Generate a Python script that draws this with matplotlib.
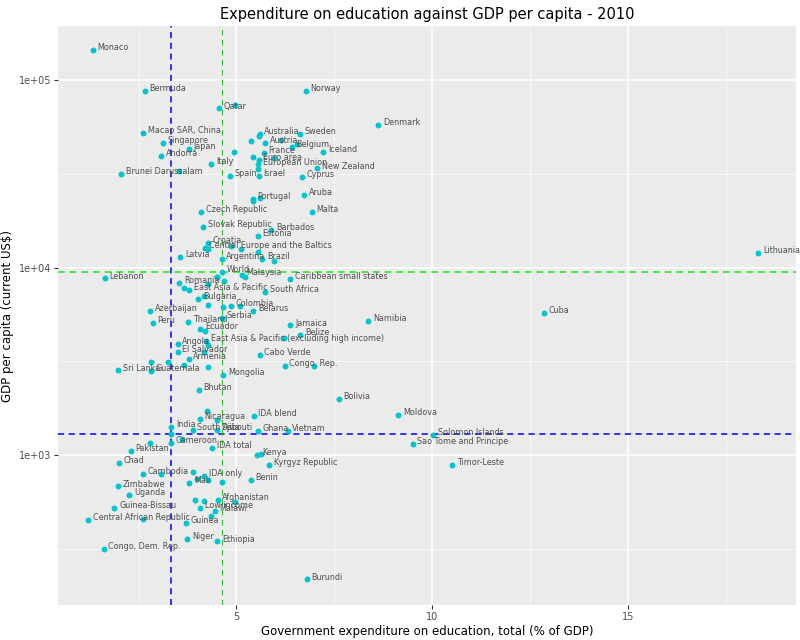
import numpy as np
import matplotlib.pyplot as plt
from matplotlib.ticker import FixedLocator, NullFormatter

# labelled countries / aggregates: (name, education % GDP, GDP per capita)
names = ["Monaco", "Bermuda", "Norway", "Qatar", "Denmark", "Macao SAR, China", "Australia",
         "Sweden", "Austria", "Singapore", "Belgium", "Iceland", "Japan", "Andorra", "France",
         "Euro area", "Italy", "European Union", "New Zealand", "Brunei Darussalam", "Spain",
         "Israel", "Cyprus", "Aruba", "Portugal", "Malta", "Czech Republic", "Slovak Republic",
         "Barbados", "Estonia", "Croatia", "Central Europe and the Baltics", "Latvia", "Argentina",
         "Brazil", "World", "Malaysia", "Caribbean small states", "Lebanon", "Romania",
         "East Asia & Pacific", "South Africa", "Bulgaria", "Colombia", "Belarus", "Azerbaijan",
         "Serbia", "Peru", "Thailand", "Jamaica", "Namibia", "Ecuador", "Belize",
         "East Asia & Pacific (excluding high income)", "Angola", "El Salvador", "Cabo Verde",
         "Armenia", "Sri Lanka", "Guatemala", "Congo, Rep.", "Mongolia", "Bhutan", "Bolivia",
         "Moldova", "IDA blend", "Nicaragua", "India", "South Asia", "Djibouti", "Ghana", "Vietnam",
         "Cameroon", "Pakistan", "IDA total", "Kenya", "Chad", "Kyrgyz Republic", "Cambodia",
         "IDA only", "Mali", "Benin", "Zimbabwe", "Uganda", "Afghanistan", "Guinea-Bissau",
         "Low income", "Malawi", "Central African Republic", "Guinea", "Niger", "Ethiopia",
         "Congo, Dem. Rep.", "Burundi", "Lithuania", "Cuba", "Solomon Islands",
         "Sao Tome and Principe", "Timor-Leste"]
edu = [1.33, 2.66, 6.77, 4.56, 8.63, 2.62, 5.59, 6.63, 5.74, 3.12, 6.41, 7.22, 3.79, 3.08, 5.70,
       5.57, 4.36, 5.56, 7.07, 2.05, 4.83, 5.57, 6.68, 6.73, 5.42, 6.93, 4.09, 4.15, 5.89, 5.55,
       4.27, 4.19, 3.57, 4.62, 5.66, 4.62, 5.13, 6.38, 1.64, 3.54, 3.79, 5.74, 4.03, 4.85, 5.43,
       2.79, 4.62, 2.86, 3.77, 6.38, 8.37, 4.08, 6.63, 4.22, 3.50, 3.50, 5.59, 3.78, 1.98, 2.82,
       6.23, 4.66, 4.04, 7.62, 9.14, 5.44, 4.06, 3.33, 3.88, 4.50, 5.55, 6.31, 3.32, 2.30, 4.38,
       5.53, 2.00, 5.84, 2.62, 4.17, 3.80, 5.36, 1.97, 2.26, 4.52, 1.88, 4.07, 4.44, 1.21, 3.70,
       3.74, 4.51, 1.61, 6.80, 18.34, 12.86, 10.03, 9.50, 10.51]
gdp = [145000, 88300, 87500, 70800, 57700, 52700, 51900, 52000, 46500, 46500, 44300, 41700,
       43100, 39700, 40900, 37700, 35900, 35600, 33900, 31500, 30800, 30800, 30500, 24400, 23400,
       19800, 19800, 16600, 15900, 14700, 13600, 12800, 11400, 11200, 11200, 9500, 9140, 8740,
       8770, 8320, 7610, 7450, 6780, 6270, 5850, 5870, 5410, 5090, 5150, 4920, 5180, 4690, 4380,
       4050, 3920, 3560, 3420, 3260, 2830, 2820, 2980, 2670, 2220, 1995, 1645, 1625, 1560, 1406,
       1367, 1367, 1340, 1345, 1157, 1051, 1087, 1002, 904, 889, 790, 778, 711, 738, 680, 614,
       574, 523, 523, 501, 453, 435, 356, 346, 316, 217, 12020, 5730, 1285, 1151, 883]

# points without a readable label
extra_edu = [4.96, 5.38, 5.57, 6.15, 6.56, 4.93, 5.43, 5.96, 5.55, 3.52, 5.42, 5.59, 4.27, 4.85,
             5.11, 5.55, 5.97, 4.50, 4.68, 5.21, 3.67, 4.27, 4.16, 4.27, 4.66, 5.10, 4.19, 4.27,
             6.22, 4.16, 3.26, 2.82, 3.67, 4.27, 6.98, 4.26, 4.51, 3.33, 2.78, 3.62, 5.62, 3.08,
             3.88, 4.00, 4.27, 4.63, 3.95, 4.17, 4.97, 4.36, 2.60, 4.50]
extra_gdp = [74300, 47700, 50600, 48200, 45800, 41700, 39100, 38500, 33700, 32700, 22600, 23500,
             12600, 13100, 12600, 12100, 10900, 8900, 8500, 8900, 7800, 8220, 7100, 6290, 6200,
             6270, 4610, 3880, 4200, 3530, 3140, 3140, 3010, 2950, 2980, 1710, 1540, 1302, 1157,
             1220, 1008, 790, 809, 747, 740, 716, 579, 570, 560, 475, 457, 8900]

edu_median = 3.33
gdp_median = 1303
edu_world = 4.62
gdp_world = 9520

fig = plt.figure(figsize=(8, 6.4), dpi=100)
ax = fig.add_axes([0.0725, 0.0547, 0.9225, 0.904])
ax.set_facecolor("#EBEBEB")
for s in ax.spines.values():
    s.set_visible(False)

ax.set_yscale("log")
ax.set_xlim(0.44, 19.3)
ax.set_ylim(10 ** 2.2, 10 ** 5.288)
ax.set_xticks([5, 10, 15])
ax.xaxis.set_minor_locator(FixedLocator([2.5, 7.5, 12.5, 17.5]))
ax.set_yticks([1e3, 1e4, 1e5])
ax.set_yticklabels(["1e+03", "1e+04", "1e+05"])
ax.yaxis.set_minor_locator(FixedLocator([10 ** 2.5, 10 ** 3.5, 10 ** 4.5]))
ax.yaxis.set_minor_formatter(NullFormatter())
ax.grid(which="major", color="white", linewidth=1.1)
ax.grid(which="minor", color="white", linewidth=0.5)
ax.set_axisbelow(True)
ax.tick_params(which="major", length=3, pad=2, color="#333333", labelsize=7, labelcolor="#4D4D4D")
ax.tick_params(which="minor", length=0)

ax.scatter(edu + extra_edu, gdp + extra_gdp, s=18, color="#00C5CD", zorder=3, linewidths=0)
for n, x, y in zip(names, edu, gdp):
    ax.text(x + 0.12, y * 1.03, n, fontsize=5.8, color="#4D4D4D", va="center", zorder=4)

ax.axvline(edu_median, color="blue", linestyle="--", linewidth=1.1, dashes=(4, 3))
ax.axhline(gdp_median, color="blue", linestyle="--", linewidth=1.1, dashes=(4, 3))
ax.axvline(edu_world, color="#33BB33", linestyle="--", linewidth=0.8, dashes=(5, 4))
ax.axhline(gdp_world, color="#22EE22", linestyle="--", linewidth=1.2, dashes=(4, 3))

ax.set_title("Expenditure on education against GDP per capita - 2010", fontsize=10.5, pad=5)
ax.set_xlabel("Government expenditure on education, total (% of GDP)", fontsize=8.5, labelpad=2)
ax.set_ylabel("GDP per capita (current US$)", fontsize=8.5, labelpad=3)

fig.savefig("out.png")
